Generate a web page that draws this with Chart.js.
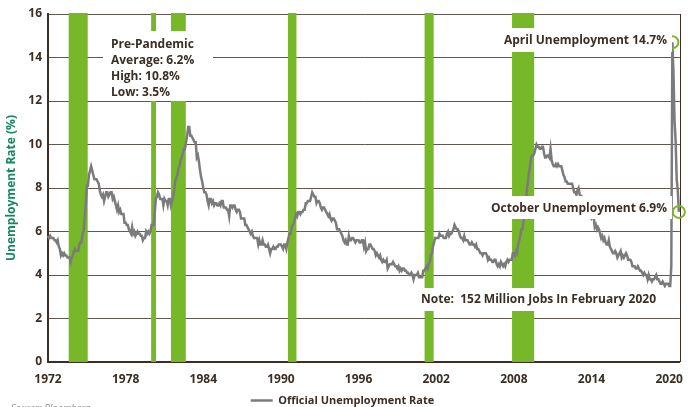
<!DOCTYPE html>
<html>
<head>
<meta charset="utf-8">
<script src="https://cdn.jsdelivr.net/npm/chart.js@4/dist/chart.umd.min.js"></script>
<style>
  html, body { margin: 0; padding: 0; background: #fff; }
  #wrap { width: 693px; height: 407px; }
</style>
</head>
<body>
<div id="wrap"><canvas id="chart" width="693" height="407"></canvas></div>
<script>
// Monthly US unemployment rate (%), Jan 1972 - Oct 2020
const startYear = 1972;
const unemployment = [
  5.8, 5.7, 5.8, 5.7, 5.7, 5.7, 5.6, 5.6, 5.5, 5.6, 5.3, 5.2, // 1972
  4.9, 5.0, 4.9, 5.0, 4.9, 4.9, 4.8, 4.8, 4.8, 4.6, 4.8, 4.9, // 1973
  5.1, 5.2, 5.1, 5.1, 5.1, 5.4, 5.5, 5.5, 5.9, 6.0, 6.6, 7.2, // 1974
  8.1, 8.1, 8.6, 8.8, 9.0, 8.8, 8.6, 8.4, 8.4, 8.4, 8.3, 8.2, // 1975
  7.9, 7.7, 7.6, 7.7, 7.4, 7.6, 7.8, 7.8, 7.6, 7.7, 7.8, 7.8, // 1976
  7.5, 7.6, 7.4, 7.2, 7.0, 7.2, 6.9, 7.0, 6.8, 6.8, 6.8, 6.4, // 1977
  6.4, 6.3, 6.3, 6.1, 6.0, 5.9, 6.2, 5.9, 6.0, 5.8, 5.9, 6.0, // 1978
  5.9, 5.9, 5.8, 5.8, 5.6, 5.7, 5.7, 6.0, 5.9, 6.0, 5.9, 6.0, // 1979
  6.3, 6.3, 6.3, 6.9, 7.5, 7.6, 7.8, 7.7, 7.5, 7.5, 7.5, 7.2, // 1980
  7.5, 7.4, 7.4, 7.2, 7.5, 7.5, 7.2, 7.4, 7.6, 7.9, 8.3, 8.5, // 1981
  8.6, 8.9, 9.0, 9.3, 9.4, 9.6, 9.8, 9.8, 10.1, 10.4, 10.8, 10.8, // 1982
  10.4, 10.4, 10.3, 10.2, 10.1, 10.1, 9.4, 9.5, 9.2, 8.8, 8.5, 8.3, // 1983
  8.0, 7.8, 7.8, 7.7, 7.4, 7.2, 7.5, 7.5, 7.3, 7.4, 7.2, 7.3, // 1984
  7.3, 7.2, 7.2, 7.3, 7.2, 7.4, 7.4, 7.1, 7.1, 7.1, 7.0, 7.0, // 1985
  6.7, 7.2, 7.2, 7.1, 7.2, 7.2, 7.0, 6.9, 7.0, 7.0, 6.9, 6.6, // 1986
  6.6, 6.6, 6.6, 6.3, 6.3, 6.2, 6.1, 6.0, 5.9, 6.0, 5.8, 5.7, // 1987
  5.7, 5.7, 5.7, 5.4, 5.6, 5.4, 5.4, 5.6, 5.4, 5.4, 5.3, 5.3, // 1988
  5.4, 5.2, 5.0, 5.2, 5.2, 5.3, 5.2, 5.2, 5.3, 5.3, 5.4, 5.4, // 1989
  5.4, 5.3, 5.2, 5.4, 5.4, 5.2, 5.5, 5.7, 5.9, 5.9, 6.2, 6.3, // 1990
  6.4, 6.6, 6.8, 6.7, 6.9, 6.9, 6.8, 6.9, 6.9, 7.0, 7.0, 7.3, // 1991
  7.3, 7.4, 7.4, 7.4, 7.6, 7.8, 7.7, 7.6, 7.6, 7.3, 7.4, 7.4, // 1992
  7.3, 7.1, 7.0, 7.1, 7.1, 7.0, 6.9, 6.8, 6.7, 6.8, 6.6, 6.5, // 1993
  6.6, 6.6, 6.5, 6.4, 6.1, 6.1, 6.1, 6.0, 5.9, 5.8, 5.6, 5.5, // 1994
  5.6, 5.4, 5.4, 5.8, 5.6, 5.6, 5.7, 5.7, 5.6, 5.5, 5.6, 5.6, // 1995
  5.6, 5.5, 5.5, 5.6, 5.6, 5.3, 5.5, 5.1, 5.2, 5.2, 5.4, 5.4, // 1996
  5.3, 5.2, 5.2, 5.1, 4.9, 5.0, 4.9, 4.8, 4.9, 4.7, 4.6, 4.7, // 1997
  4.6, 4.6, 4.7, 4.3, 4.4, 4.5, 4.5, 4.5, 4.6, 4.5, 4.4, 4.4, // 1998
  4.3, 4.4, 4.2, 4.3, 4.2, 4.3, 4.3, 4.2, 4.2, 4.1, 4.1, 4.0, // 1999
  4.0, 4.1, 4.0, 3.8, 4.0, 4.0, 4.0, 4.1, 3.9, 3.9, 3.9, 3.9, // 2000
  4.2, 4.2, 4.3, 4.4, 4.3, 4.5, 4.6, 4.9, 5.0, 5.3, 5.5, 5.7, // 2001
  5.7, 5.7, 5.7, 5.9, 5.8, 5.8, 5.8, 5.7, 5.7, 5.7, 5.9, 6.0, // 2002
  5.8, 5.9, 5.9, 6.0, 6.1, 6.3, 6.2, 6.1, 6.1, 6.0, 5.8, 5.7, // 2003
  5.7, 5.6, 5.8, 5.6, 5.6, 5.6, 5.5, 5.4, 5.4, 5.5, 5.4, 5.4, // 2004
  5.3, 5.4, 5.2, 5.2, 5.1, 5.0, 5.0, 4.9, 5.0, 5.0, 5.0, 4.9, // 2005
  4.7, 4.8, 4.7, 4.7, 4.6, 4.6, 4.7, 4.7, 4.5, 4.4, 4.5, 4.4, // 2006
  4.6, 4.5, 4.4, 4.5, 4.4, 4.6, 4.7, 4.6, 4.7, 4.7, 4.7, 5.0, // 2007
  5.0, 4.9, 5.1, 5.0, 5.4, 5.6, 5.8, 6.1, 6.1, 6.5, 6.8, 7.3, // 2008
  7.8, 8.3, 8.7, 9.0, 9.4, 9.5, 9.5, 9.6, 9.8, 10.0, 9.9, 9.9, // 2009
  9.8, 9.8, 9.9, 9.9, 9.6, 9.4, 9.4, 9.5, 9.5, 9.4, 9.8, 9.3, // 2010
  9.1, 9.0, 9.0, 9.1, 9.0, 9.1, 9.0, 9.0, 9.0, 8.8, 8.6, 8.5, // 2011
  8.3, 8.3, 8.2, 8.2, 8.2, 8.2, 8.2, 8.0, 7.8, 7.8, 7.7, 7.9, // 2012
  8.0, 7.7, 7.5, 7.6, 7.5, 7.5, 7.3, 7.2, 7.2, 7.2, 6.9, 6.7, // 2013
  6.6, 6.7, 6.7, 6.2, 6.3, 6.1, 6.2, 6.1, 5.9, 5.7, 5.8, 5.6, // 2014
  5.7, 5.5, 5.4, 5.4, 5.6, 5.3, 5.2, 5.1, 5.0, 5.0, 5.1, 5.0, // 2015
  4.8, 4.9, 5.0, 5.1, 4.8, 4.9, 4.8, 4.9, 5.0, 4.9, 4.7, 4.7, // 2016
  4.7, 4.6, 4.4, 4.4, 4.4, 4.3, 4.3, 4.4, 4.3, 4.2, 4.2, 4.1, // 2017
  4.0, 4.1, 4.0, 4.0, 3.8, 4.0, 3.8, 3.8, 3.7, 3.8, 3.8, 3.9, // 2018
  4.0, 3.8, 3.8, 3.7, 3.6, 3.6, 3.7, 3.6, 3.5, 3.6, 3.6, 3.6, // 2019
  3.5, 3.5, 4.4, 14.7, 13.3, 11.1, 10.2, 8.4, 7.9, 6.9        // 2020
];

// Recession periods (decimal years)
const recessionStart = [1973.6, 1979.97, 1981.5, 1990.54, 2001.1, 2007.86];
const recessionEnd   = [1975.07, 1980.35, 1982.65, 1991.2, 2001.8, 2009.57];

const xTickYears = [1972, 1978, 1984, 1990, 1996, 2002, 2008, 2014, 2020];
const highlightIndex = [579, 585]; // April 2020, October 2020

const seriesName = "Official Unemployment Rate";
const yTitle = "Unemployment Rate (%)";

// Text call-outs
const notes = [
  { box: [103, 31, 110, 70], x: 111, y: 45, lines: ["Pre-Pandemic", "Average: 6.2%", "High: 10.8%", "Low: 3.5%"], align: "left" },
  { box: [494, 28, 178, 24], x: 667, y: 41, lines: ["April Unemployment 14.7%"], align: "right" },
  { box: [480, 196, 192, 23], x: 667, y: 209, lines: ["October Unemployment 6.9%"], align: "right" },
  { box: [400, 288, 266, 23], x: 656, y: 300, lines: ["Note:  152 Million Jobs In February 2020"], align: "right" }
];

const FONT = "'Open Sans', 'DejaVu Sans', sans-serif";
const DARK = "#3b2e25";
const GREEN = "#77b828";
const LINE = "#7b7b7d";

const points = unemployment.map((v, i) => ({ x: startYear + i / 12, y: v }));
const isHighlight = ctx => highlightIndex.includes(ctx.dataIndex);

const recessionBars = {
  id: "recessionBars",
  beforeDatasetsDraw(chart) {
    const { ctx, chartArea, scales } = chart;
    ctx.save();
    ctx.fillStyle = GREEN;
    recessionStart.forEach((s, i) => {
      const x1 = scales.x.getPixelForValue(s);
      const x2 = scales.x.getPixelForValue(recessionEnd[i]);
      ctx.fillRect(x1, chartArea.top - 1, x2 - x1, chartArea.bottom - chartArea.top + 1);
    });
    // right frame
    ctx.strokeStyle = DARK;
    ctx.lineWidth = 1;
    ctx.beginPath();
    ctx.moveTo(Math.round(chartArea.right) + 0.5, chartArea.top);
    ctx.lineTo(Math.round(chartArea.right) + 0.5, chartArea.bottom);
    ctx.stroke();
    ctx.restore();
  }
};

const callouts = {
  id: "callouts",
  afterDatasetsDraw(chart) {
    const { ctx } = chart;
    ctx.save();
    notes.forEach(n => {
      ctx.fillStyle = "#fff";
      ctx.fillRect(n.box[0], n.box[1], n.box[2], n.box[3]);
      ctx.fillStyle = DARK;
      ctx.font = "bold 12px " + FONT;
      ctx.textAlign = n.align;
      ctx.textBaseline = "middle";
      n.lines.forEach((t, i) => ctx.fillText(t, n.x, n.y + i * 16));
    });
    ctx.restore();
  },
  afterDraw(chart) {
    const { ctx } = chart;
    ctx.save();
    ctx.fillStyle = "#8a8a8a";
    ctx.font = "italic 9.5px " + FONT;
    ctx.textAlign = "left";
    ctx.textBaseline = "alphabetic";
    ctx.fillText("Source: Bloomberg", 11, 411);
    ctx.restore();
  }
};

new Chart(document.getElementById("chart"), {
  type: "line",
  data: {
    datasets: [{
      label: seriesName,
      data: points,
      borderColor: LINE,
      borderWidth: 2.5,
      tension: 0,
      clip: false,
      pointRadius: ctx => isHighlight(ctx) ? 6 : 0,
      pointHoverRadius: 0,
      pointBorderColor: ctx => isHighlight(ctx) ? GREEN : LINE,
      pointBorderWidth: ctx => isHighlight(ctx) ? 2 : 2.5,
      pointBackgroundColor: "rgba(0,0,0,0)"
    }]
  },
  options: {
    responsive: false,
    animation: false,
    layout: { padding: { left: 0, right: 8, top: 14, bottom: -9 } },
    scales: {
      x: {
        type: "linear",
        min: startYear,
        max: 2020.83,
        afterBuildTicks: s => { s.ticks = xTickYears.map(v => ({ value: v })); },
        afterFit: s => { s.height = 29; },
        grid: { display: false, drawTicks: false },
        border: { display: true, color: DARK, width: 2 },
        ticks: {
          color: DARK,
          padding: 10,
          maxRotation: 0,
          autoSkip: false,
          font: { family: FONT, weight: "bold", size: 12 },
          callback: v => String(v)
        }
      },
      y: {
        min: 0,
        max: 16,
        afterFit: s => { s.width = 48; },
        ticks: {
          stepSize: 2,
          color: DARK,
          padding: 6,
          font: { family: FONT, weight: "bold", size: 12 }
        },
        grid: { color: "#5f5750", lineWidth: 1, drawTicks: false },
        border: { display: true, color: DARK, width: 2 },
        title: {
          display: true,
          text: yTitle,
          color: "#16875f",
          font: { family: FONT, weight: "bold", size: 12 },
          padding: { top: 4, bottom: 0 }
        }
      }
    },
    plugins: {
      legend: {
        position: "bottom",
        labels: {
          usePointStyle: true,
          pointStyle: "line",
          pointStyleWidth: 22,
          color: DARK,
          padding: 4,
          font: { family: FONT, weight: "bold", size: 11 }
        }
      },
      tooltip: { enabled: false }
    }
  },
  plugins: [recessionBars, callouts]
});
</script>
</body>
</html>
